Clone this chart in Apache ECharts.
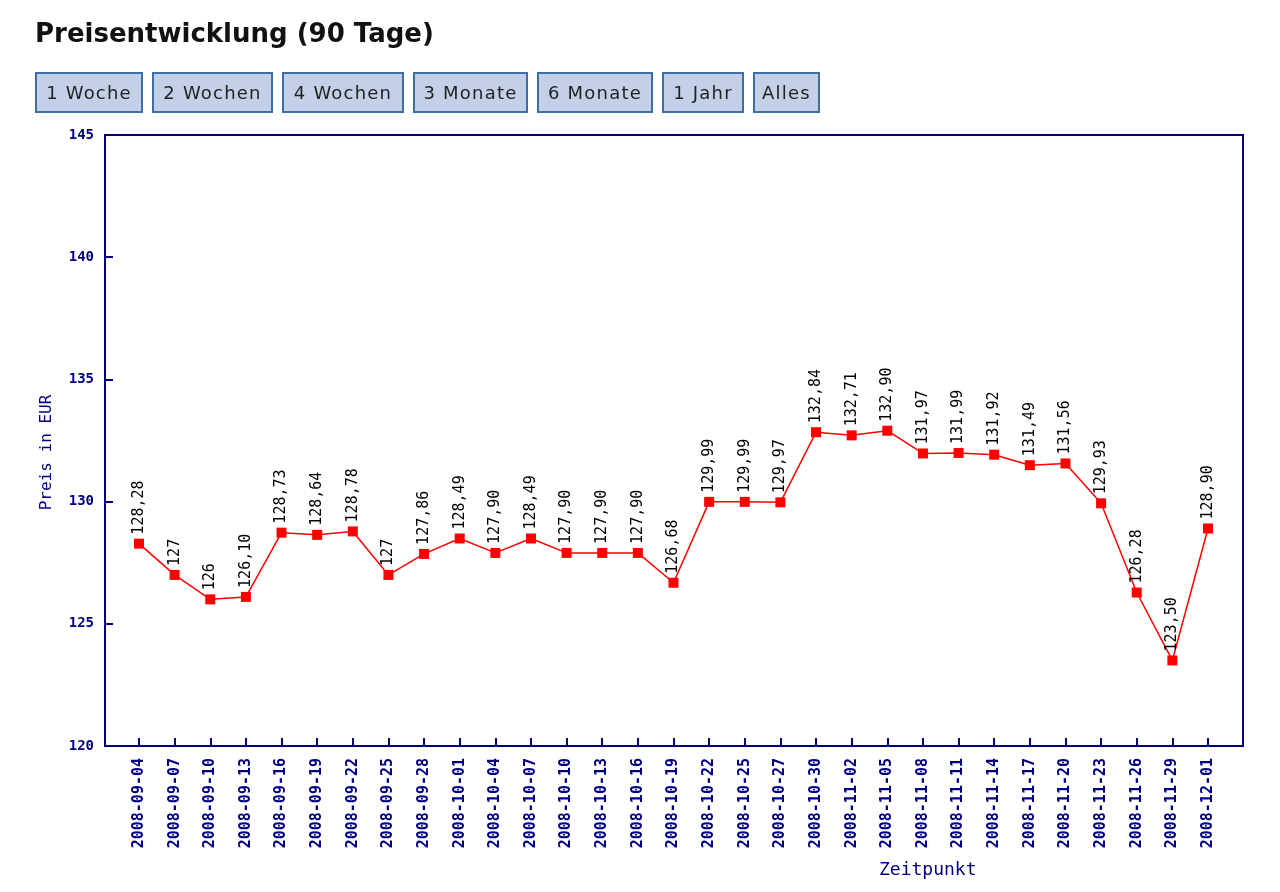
<!DOCTYPE html>
<html>
<head>
<meta charset="utf-8">
<script src="https://cdn.jsdelivr.net/npm/echarts@6/dist/echarts.min.js"></script>
<style>
  body { margin: 0; background: #fff; }
  #graph { position: absolute; left: 0; top: 0; width: 1280px; height: 892px; }
  h1 {
    position: absolute; left: 35px; top: 18px; margin: 0;
    font: bold 26px "DejaVu Sans", sans-serif; color: #111; z-index: 2;
  }
  .buttons { position: absolute; left: 35px; top: 72px; z-index: 2; display: flex; }
  .buttons button {
    height: 41px; margin-right: 9px; padding: 0;
    background: #c3d0e8; border: 2px solid #3d6fa3; border-radius: 0;
    font: 18px "DejaVu Sans", sans-serif; letter-spacing: 1.2px; color: #222;
  }
</style>
</head>
<body>
<div id="graph"></div>
<h1>Preisentwicklung (90 Tage)</h1>
<div class="buttons">
  <button style="width:108px">1 Woche</button>
  <button style="width:121px">2 Wochen</button>
  <button style="width:122px">4 Wochen</button>
  <button style="width:115px">3 Monate</button>
  <button style="width:116px">6 Monate</button>
  <button style="width:82px">1 Jahr</button>
  <button style="width:67px">Alles</button>
</div>
<script>
// Zeitpunkte und Preise
const dates = [
  '2008-09-04', '2008-09-07', '2008-09-10', '2008-09-13', '2008-09-16', '2008-09-19',
  '2008-09-22', '2008-09-25', '2008-09-28', '2008-10-01', '2008-10-04', '2008-10-07',
  '2008-10-10', '2008-10-13', '2008-10-16', '2008-10-19', '2008-10-22', '2008-10-25',
  '2008-10-27', '2008-10-30', '2008-11-02', '2008-11-05', '2008-11-08', '2008-11-11',
  '2008-11-14', '2008-11-17', '2008-11-20', '2008-11-23', '2008-11-26', '2008-11-29',
  '2008-12-01',
];
const prices = [
  128.28, 127, 126, 126.10, 128.73, 128.64, 128.78, 127, 127.86, 128.49, 127.90, 128.49,
  127.90, 127.90, 127.90, 126.68, 129.99, 129.99, 129.97, 132.84, 132.71, 132.90, 131.97,
  131.99, 131.92, 131.49, 131.56, 129.93, 126.28, 123.50, 128.90,
];
const yTicks = { min: 120, max: 145, step: 5 };

const navy = '#000080';
const mono = '"DejaVu Sans Mono", monospace';

function fmtPrice(v) {
  return Number.isInteger(v) ? String(v) : v.toFixed(2).replace('.', ',');
}

const chart = echarts.init(document.getElementById('graph'));

chart.setOption({
  animation: false,
  grid: { left: 139, right: 72, top: 135, bottom: 146 },
  graphic: [
    {
      type: 'rect',
      shape: { x: 105, y: 135, width: 1138, height: 611 },
      style: { fill: 'none', stroke: navy, lineWidth: 2 },
      z: 0,
    },
    {
      type: 'text',
      left: 879,
      top: 861,
      style: { text: 'Zeitpunkt', fill: navy, font: '18px ' + mono },
    },
  ],
  xAxis: {
    type: 'category',
    data: dates,
    boundaryGap: false,
    axisLine: { show: false },
    axisTick: {
      show: true,
      inside: true,
      interval: 0,
      length: 8,
      lineStyle: { color: navy, width: 2 },
    },
    axisLabel: {
      interval: 0,
      rotate: 90,
      margin: 12,
      color: navy,
      fontFamily: mono,
      fontWeight: 'bold',
      fontSize: 15,
    },
    splitLine: { show: false },
  },
  yAxis: {
    type: 'value',
    min: yTicks.min,
    max: yTicks.max,
    interval: yTicks.step,
    offset: 34,
    name: 'Preis in EUR',
    nameLocation: 'middle',
    nameGap: 50,
    nameTextStyle: { color: navy, fontFamily: mono, fontSize: 16, padding: [0, 24, 0, 0] },
    axisLine: { show: true, lineStyle: { color: navy, width: 2 } },
    axisTick: { show: true, inside: true, length: 8, lineStyle: { color: navy, width: 2 } },
    axisLabel: {
      color: navy,
      fontFamily: mono,
      fontWeight: 'bold',
      fontSize: 14,
      margin: 11,
    },
    splitLine: { show: false },
  },
  series: [
    {
      type: 'line',
      data: prices,
      symbol: 'rect',
      symbolSize: 10,
      itemStyle: { color: '#ff0000' },
      lineStyle: { color: '#ff0000', width: 1.5 },
      label: {
        show: true,
        position: 'top',
        distance: 4,
        rotate: 90,
        align: 'left',
        verticalAlign: 'middle',
        color: '#000',
        fontFamily: mono,
        fontSize: 15,
        formatter: (p) => fmtPrice(p.value),
      },
    },
  ],
});
</script>
</body>
</html>
